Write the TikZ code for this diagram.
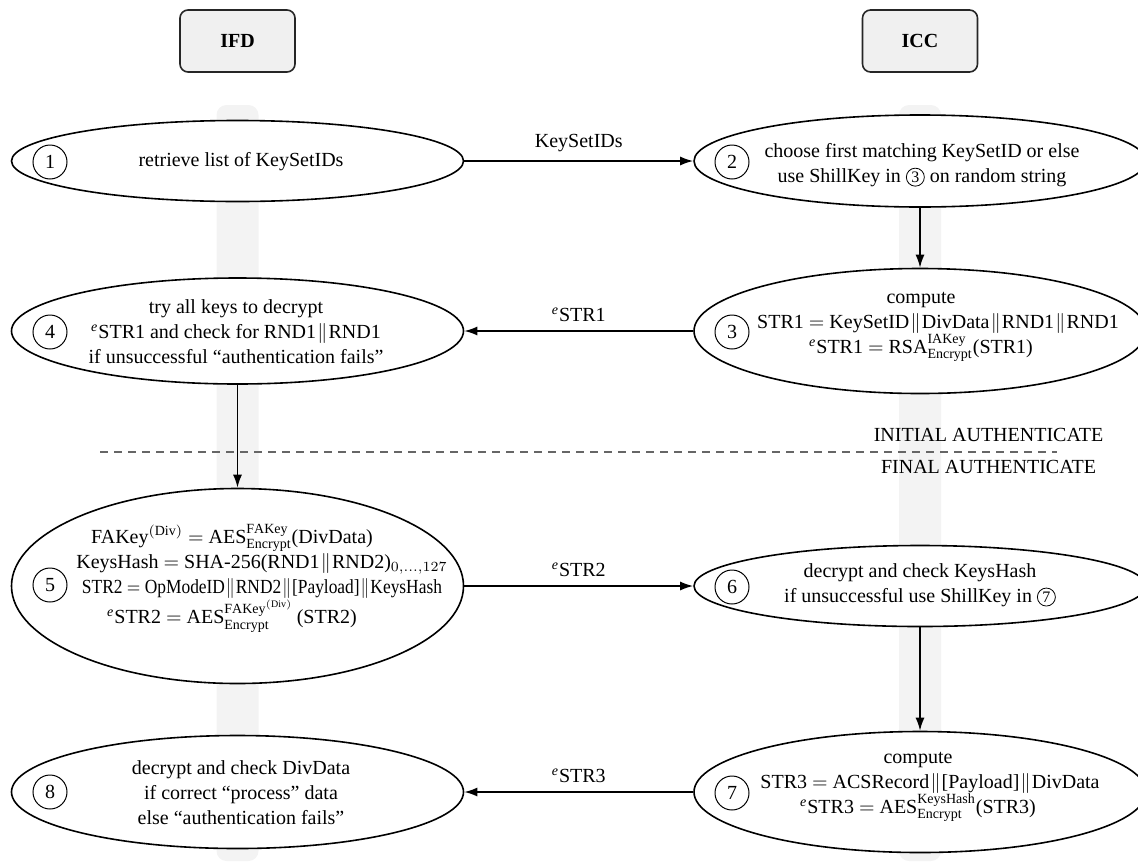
\documentclass[tikz,border=0pt]{standalone}
\usepackage{fontspec}
\usepackage{graphicx}
\setmainfont{Liberation Serif}
\usetikzlibrary{arrows.meta,shapes.geometric}
\definecolor{lanegray}{HTML}{F3F3F3}
\definecolor{boxgray}{HTML}{F0F0F0}
\definecolor{dashgray}{HTML}{666666}
\newcommand{\dbar}{\hspace{0.06em}$\|$\hspace{0.06em}}
\newcommand{\eqs}{$=$}
\newcommand{\ee}{\textsuperscript{\textit{e}}}
\newcommand{\incirc}[1]{\tikz[baseline=(X.base)]\node[draw,circle,inner sep=0pt,minimum size=9pt,line width=0.4pt,font=\footnotesize](X){#1};}
\begin{document}
\begin{tikzpicture}[x=0.5pt,y=-0.5pt,
  lane/.style={fill=lanegray,draw=none,rounded corners=5pt},
  party/.style={draw=black!85,fill=boxgray,rounded corners=4pt,line width=0.8pt,minimum width=57.5pt,minimum height=31pt,font=\bfseries},
  stepell/.style={draw,ellipse,fill=white,line width=0.8pt,minimum width=226pt,inner sep=0pt},
  num/.style={draw,circle,minimum size=17pt,inner sep=0pt,line width=0.5pt},
  txt/.style={align=center,font=\fontsize{10}{12.5}\selectfont},
  msg/.style={-{Latex[length=6.5pt,width=4.5pt]},line width=0.8pt},
  sep/.style={dashgray,line width=0.6pt,dash pattern=on 4pt off 3pt}
]
\useasboundingbox (0,0) rectangle (1138,862);
% lanes
\fill[lane] (216.5,105) rectangle (258.5,861);
\fill[lane] (899,105) rectangle (941,861);
% parties
\node[party] (ifd) at (237.5,41) {IFD};
\node[party] (icc) at (920,41) {ICC};
% ellipses
\node[stepell,minimum height=40.5pt] (e1) at (237.5,161) {};
\node[stepell,minimum height=46pt] (e2) at (920,161) {};
\node[stepell,minimum height=62.5pt] (e3) at (920,331) {};
\node[stepell,minimum height=53pt] (e4) at (237.5,331) {};
\node[stepell,minimum height=97.5pt] (e5) at (237.5,586) {};
\node[stepell,minimum height=40.5pt] (e6) at (920,586) {};
\node[stepell,minimum height=60.5pt] (e7) at (920,792) {};
\node[stepell,minimum height=56.5pt] (e8) at (237.5,792) {};
% numbers
\node[num] (c1) at (50,162) {1};
\node[num] (c2) at (732,162) {2};
\node[num] (c3) at (732,332) {3};
\node[num] (c4) at (50,332) {4};
\node[num] (c5) at (50,585) {5};
\node[num] (c6) at (732,587) {6};
\node[num] (c7) at (732,793) {7};
\node[num] (c8) at (50,792) {8};
% texts
\node[txt] (t1) at (241,162) {retrieve list of KeySetIDs};
\node[txt] (t2) at (922,165) {choose first matching KeySetID or else\\use ShillKey in \incirc{3} on random string};
\node[txt] (t3) at (921,327) {compute\\\hspace*{17pt}STR1 \eqs{} KeySetID\dbar DivData\dbar RND1\dbar RND1\\\ee STR1 \eqs{} RSA$^{\mathrm{IAKey}}_{\mathrm{Encrypt}}$(STR1)};
\node[txt] (t4) at (236,332) {try all keys to decrypt\\\ee STR1 and check for RND1\dbar RND1\\if unsuccessful “authentication fails”};
\node[txt] (t5) at (232,578) {FAKey$^{\mathrm{(Div)}}$ \eqs{} AES$^{\mathrm{FAKey}}_{\mathrm{Encrypt}}$(DivData)\\\hspace*{30pt}KeysHash \eqs{} SHA-256(RND1\dbar RND2)$_{0,\ldots,127}$\\\hspace*{30pt}\resizebox{180pt}{\height}{STR2 \eqs{} OpModeID\dbar RND2\dbar [Payload]\dbar KeysHash}\\\ee STR2 \eqs{} AES$^{\mathrm{FAKey}^{\mathrm{(Div)}}}_{\mathrm{Encrypt}}$\,(STR2)};
\node[txt] (t6) at (920,585) {decrypt and check KeysHash\\if unsuccessful use ShillKey in \incirc{7}};
\node[txt] (t7) at (918,787) {compute\\\hspace*{12pt}STR3 \eqs{} ACSRecord\dbar [Payload]\dbar DivData\\\ee STR3 \eqs{} AES$^{\mathrm{KeysHash}}_{\mathrm{Encrypt}}$(STR3)};
\node[txt] (t8) at (241,793) {decrypt and check DivData\\if correct “process” data\\else “authentication fails”};
% messages
\draw[msg] (e1.east) -- (e2.west) node[midway,above=1pt] (m1) {KeySetIDs};
\draw[msg] (e3.west) -- (e4.east) node[midway,above=1pt] (m2) {\ee STR1};
\draw[msg] (e5.east) -- (e6.west) node[midway,above=1pt] (m3) {\ee STR2};
\draw[msg] (e7.west) -- (e8.east) node[midway,above=1pt] (m4) {\ee STR3};
\draw[msg] (e2.south) -- (e3.north);
\draw[msg] (e4.south) -- (e5.north);
\draw[msg] (e6.south) -- (e7.north);
% phase separator
\coordinate (dl) at (100,452);
\coordinate (dr) at (1057,452);
\draw[sep] (dl) -- (dr);
\node (ia) at (988.5,435) {INITIAL AUTHENTICATE};
\node (fa) at (988.5,467) {FINAL AUTHENTICATE};
\end{tikzpicture}
\end{document}
